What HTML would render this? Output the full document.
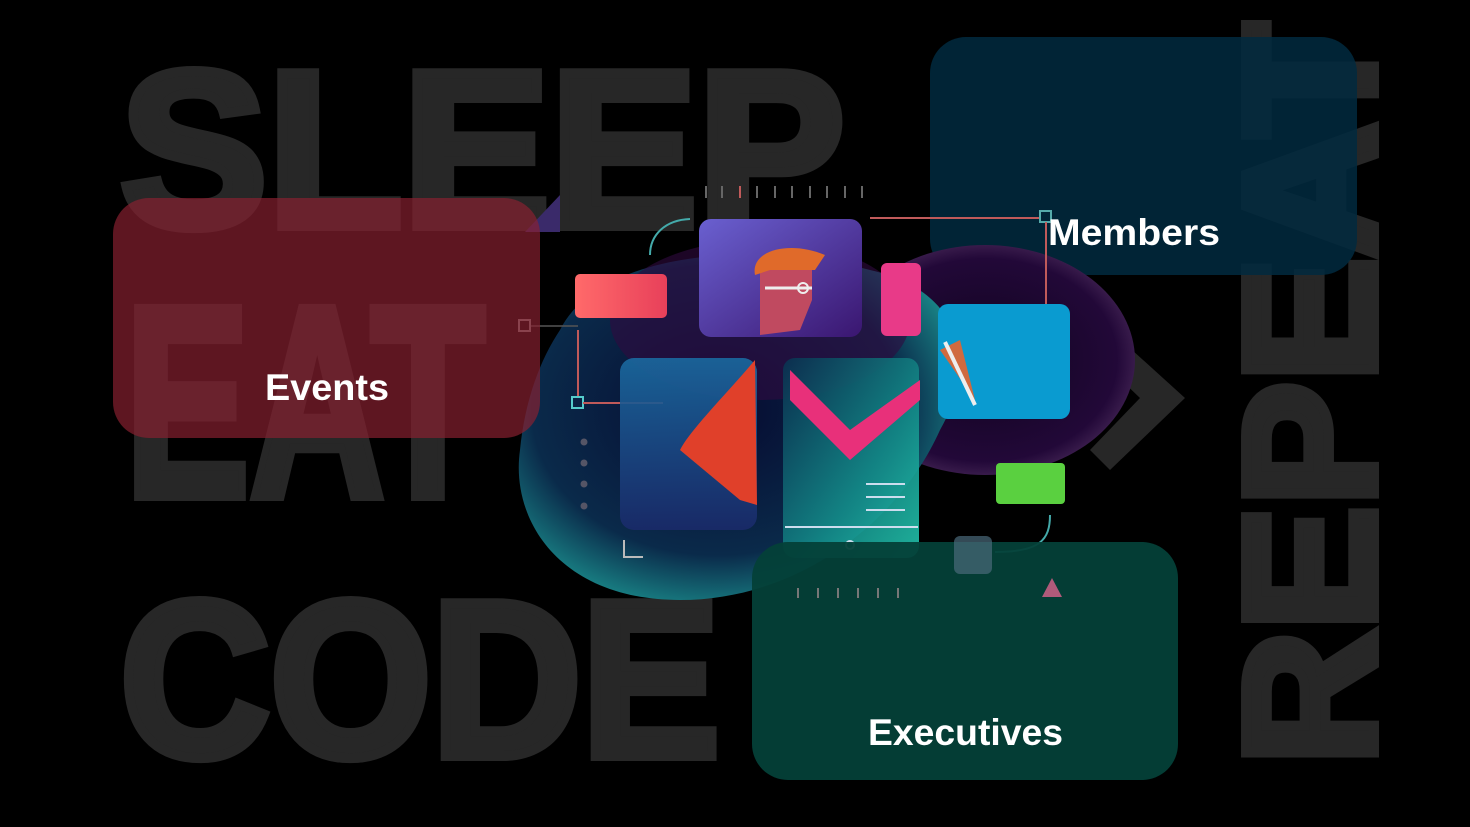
<!DOCTYPE html>
<html><head><meta charset="utf-8"><style>
html,body{margin:0;padding:0;background:#000;width:1470px;height:827px;overflow:hidden}
svg{display:block}
</style></head><body>
<svg width="1470" height="827" viewBox="0 0 1470 827" xmlns="http://www.w3.org/2000/svg">
<defs>
<linearGradient id="face" x1="0" y1="0" x2="1" y2="1"><stop offset="0" stop-color="#6a60d0"/><stop offset="1" stop-color="#3a1670"/></linearGradient>
<linearGradient id="pink" x1="0" y1="0" x2="1" y2="0"><stop offset="0" stop-color="#ff6a6a"/><stop offset="1" stop-color="#e8405a"/></linearGradient>
<linearGradient id="teal" x1="0" y1="0" x2="1" y2="1"><stop offset="0" stop-color="#0a3050"/><stop offset="0.6" stop-color="#138a88"/><stop offset="1" stop-color="#22c0a8"/></linearGradient>
<linearGradient id="leftc" x1="0" y1="0" x2="0" y2="1"><stop offset="0" stop-color="#1a6aa0"/><stop offset="1" stop-color="#1a2a6a"/></linearGradient>
<radialGradient id="blob1" cx="0.5" cy="0.5" r="0.55"><stop offset="0" stop-color="#10041e"/><stop offset="0.8" stop-color="#220838"/><stop offset="1" stop-color="#4a2a5a"/></radialGradient>
<radialGradient id="blob2" cx="0.45" cy="0.45" r="0.6"><stop offset="0" stop-color="#060a30"/><stop offset="0.7" stop-color="#0a2a4a"/><stop offset="1" stop-color="#1a8a8a"/></radialGradient>
</defs>
<g font-family="Liberation Sans, sans-serif" font-weight="bold" fill="#272727" stroke="#272727" stroke-width="10" stroke-linejoin="miter">
<text x="120" y="226" font-size="222" textLength="725" lengthAdjust="spacingAndGlyphs">SLEEP</text>
<text x="125" y="496" font-size="272" textLength="360" lengthAdjust="spacingAndGlyphs">EAT</text>
<text x="120" y="756" font-size="222" textLength="600" lengthAdjust="spacingAndGlyphs">CODE</text>
<text transform="translate(1374,765) rotate(-90)" x="0" y="0" font-size="186" textLength="742" lengthAdjust="spacingAndGlyphs">REPEAT</text>
</g>
<polygon points="1110,330 1185,398 1110,470 1090,450 1140,398 1090,350" fill="#272727"/>
<rect x="930" y="37" width="427" height="238" rx="36" fill="#012a40" fill-opacity="0.85"/>
<ellipse cx="985" cy="360" rx="150" ry="115" fill="url(#blob1)"/>
<path d="M560,330 C600,250 760,240 870,270 C960,290 980,360 940,430 C900,520 800,600 680,600 C560,600 510,520 520,450 C525,400 540,360 560,330Z" fill="url(#blob2)"/>
<ellipse cx="760" cy="320" rx="150" ry="80" fill="#300a40" opacity="0.6"/>
<g stroke="#666" stroke-width="2"><line x1="706" y1="186" x2="706" y2="198"/><line x1="722" y1="186" x2="722" y2="198"/><line x1="740" y1="186" x2="740" y2="198" stroke="#c05a5a"/><line x1="757" y1="186" x2="757" y2="198"/><line x1="775" y1="186" x2="775" y2="198"/><line x1="792" y1="186" x2="792" y2="198"/><line x1="810" y1="186" x2="810" y2="198"/><line x1="827" y1="186" x2="827" y2="198"/><line x1="845" y1="186" x2="845" y2="198"/><line x1="862" y1="186" x2="862" y2="198"/></g>
<path d="M650,255 C650,235 665,220 690,219" fill="none" stroke="#4aa" stroke-width="2"/>
<line x1="870" y1="218" x2="1040" y2="218" stroke="#c05a5a" stroke-width="2"/>
<rect x="1040" y="211" width="11" height="11" fill="none" stroke="#5aa" stroke-width="2"/>
<line x1="1046" y1="222" x2="1046" y2="305" stroke="#c05a5a" stroke-width="2"/>
<rect x="575" y="274" width="92" height="44" rx="5" fill="url(#pink)"/>
<rect x="699" y="219" width="163" height="118" rx="12" fill="url(#face)"/>
<path d="M760,335 L760,270 C760,250 800,245 812,265 L812,300 L800,330Z" fill="#c04a60"/>
<path d="M755,275 C750,250 790,240 825,255 L815,270 L770,270Z" fill="#e06a2a"/>
<line x1="765" y1="288" x2="812" y2="288" stroke="#eee" stroke-width="3"/>
<circle cx="803" cy="288" r="5" fill="none" stroke="#eee" stroke-width="2"/>
<rect x="881" y="263" width="40" height="73" rx="6" fill="#e83a88"/>
<rect x="938" y="304" width="132" height="115" rx="10" fill="#0a9bd0"/>
<path d="M940,350 L975,400 L960,340Z" fill="#d06a40"/>
<line x1="945" y1="342" x2="975" y2="405" stroke="#eee" stroke-width="4"/>
<line x1="578" y1="330" x2="578" y2="398" stroke="#c05a5a" stroke-width="2"/>
<line x1="530" y1="326" x2="578" y2="326" stroke="#555" stroke-width="1.5"/>
<rect x="519" y="320" width="11" height="11" fill="none" stroke="#888" stroke-width="2"/>
<rect x="572" y="397" width="11" height="11" fill="none" stroke="#5cc" stroke-width="2"/>
<line x1="583" y1="403" x2="663" y2="403" stroke="#c05a5a" stroke-width="2"/>
<rect x="620" y="358" width="137" height="172" rx="14" fill="url(#leftc)" opacity="0.9"/>
<path d="M755,360 C730,390 690,430 680,450 L740,500 L757,505Z" fill="#e0402a"/>
<rect x="783" y="358" width="136" height="200" rx="12" fill="url(#teal)" opacity="0.92"/>
<path d="M790,370 L850,430 L920,380 L920,400 L850,460 L790,400Z" fill="#e8307a"/>
<g stroke="#cde" stroke-width="2"><line x1="866" y1="484" x2="905" y2="484"/><line x1="866" y1="497" x2="905" y2="497"/><line x1="866" y1="510" x2="905" y2="510"/><line x1="785" y1="527" x2="918" y2="527"/></g>
<circle cx="850" cy="545" r="4" fill="none" stroke="#cde" stroke-width="2"/>
<g fill="#556"><circle cx="584" cy="442" r="3.5"/><circle cx="584" cy="463" r="3.5"/><circle cx="584" cy="484" r="3.5"/><circle cx="584" cy="506" r="3.5"/></g>
<path d="M624,540 L624,557 L643,557" fill="none" stroke="#bbb" stroke-width="2"/>
<rect x="996" y="463" width="69" height="41" rx="4" fill="#5ad040"/>
<path d="M1050,515 C1050,540 1040,552 995,552" fill="none" stroke="#4aa" stroke-width="2"/>
<polygon points="560,195 560,232 525,232" fill="#3a2a6a"/>
<rect x="113" y="198" width="427" height="240" rx="36" fill="#8a2030" fill-opacity="0.68"/>
<rect x="752" y="542" width="426" height="238" rx="36" fill="#044038" fill-opacity="0.95"/>
<rect x="954" y="536" width="38" height="38" rx="6" fill="#4a6a7a" opacity="0.7"/>
<polygon points="1052,578 1062,597 1042,597" fill="#b05a7a"/>
<g stroke="#777" stroke-width="2"><line x1="798" y1="588" x2="798" y2="598"/><line x1="818" y1="588" x2="818" y2="598"/><line x1="838" y1="588" x2="838" y2="598"/><line x1="858" y1="588" x2="858" y2="598"/><line x1="878" y1="588" x2="878" y2="598"/><line x1="898" y1="588" x2="898" y2="598"/></g>
<g font-family="Liberation Sans, sans-serif" font-weight="bold" fill="#fff" font-size="37">
<text x="327" y="400" text-anchor="middle" textLength="124" lengthAdjust="spacingAndGlyphs">Events</text>
<text x="1048" y="245" textLength="172" lengthAdjust="spacingAndGlyphs">Members</text>
<text x="868" y="745" textLength="195" lengthAdjust="spacingAndGlyphs">Executives</text>
</g>
</svg>
</body></html>
